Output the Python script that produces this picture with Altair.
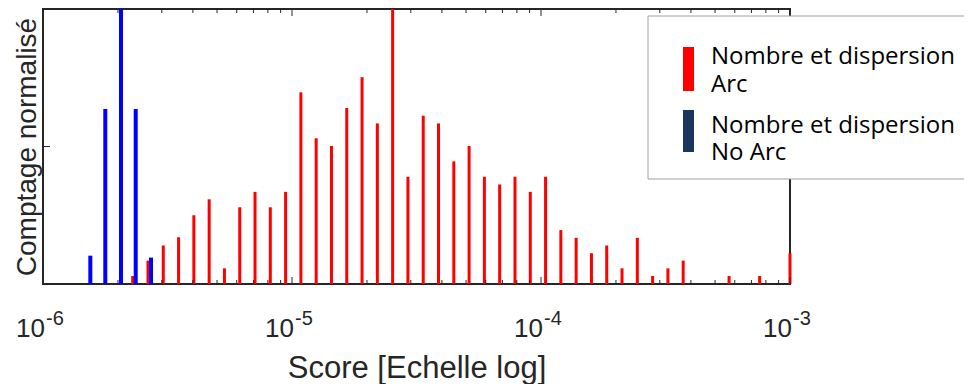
import altair as alt
import pandas as pd

# ---- data ----
red_scores = [2.292e-6, 2.640e-6, 3.041e-6, 3.503e-6, 4.035e-6, 4.649e-6, 5.354e-6, 6.168e-6,
              7.104e-6, 8.183e-6, 9.426e-6, 1.0856e-5, 1.2506e-5, 1.4405e-5, 1.6593e-5, 1.9114e-5,
              2.2017e-5, 2.5360e-5, 2.9212e-5, 3.3651e-5, 3.8764e-5, 4.4650e-5, 5.1430e-5, 5.9243e-5,
              6.8234e-5, 7.8614e-5, 9.056e-5, 1.0431e-4, 1.2015e-4, 1.3841e-4, 1.5943e-4, 1.8365e-4,
              2.1153e-4, 2.4368e-4, 2.8067e-4, 3.2335e-4, 3.7240e-4, 4.2900e-4, 4.9418e-4, 5.6924e-4,
              6.5569e-4, 7.5509e-4, 8.6986e-4, 1.0e-3]
red_values = [0.029, 0.085, 0.14, 0.17, 0.25, 0.308, 0.057, 0.279, 0.335, 0.279, 0.335, 0.697,
              0.53, 0.502, 0.64, 0.752, 0.584, 1.0, 0.39, 0.612, 0.584, 0.446, 0.502, 0.39,
              0.362, 0.39, 0.335, 0.39, 0.196, 0.168, 0.112, 0.14, 0.057, 0.168, 0.029, 0.057,
              0.085, 0.0, 0.0, 0.029, 0.0, 0.029, 0.0, 0.112]

blue_scores = [1.549e-6, 1.779e-6, 2.057e-6, 2.357e-6, 2.715e-6]
blue_values = [0.103, 0.636, 1.0, 0.636, 0.096]

decades = [1e-6, 1e-5, 1e-4, 1e-3]
decade_base = ["10", "10", "10", "10"]
decade_exp = ["-6", "-5", "-4", "-3"]
minor_mult = [2, 3, 4, 5, 6, 7, 8, 9]

legend_title = "Nombre et dispersion"
legend_names = ["Arc", "No Arc"]

W, H = 747, 275
AX = "#262626"

red_df = pd.DataFrame({"score": red_scores, "value": red_values})
blue_df = pd.DataFrame({"score": blue_scores, "value": blue_values})
major_df = pd.DataFrame({"score": decades, "base": decade_base, "exp": decade_exp})
minor_df = pd.DataFrame({"score": [m * d for d in decades[:-1] for m in minor_mult]})
one = pd.DataFrame({"k": [0]})

xscale = alt.Scale(type="log", domain=[1e-6, 1e-3], nice=False, padding=0)
yscale = alt.Scale(domain=[0, 1], nice=False, zero=True, padding=0)

xaxis = alt.Axis(title="Score [Echelle log]", labels=False, ticks=False, domain=False, grid=False,
                 titleFont="Liberation Sans", titleFontSize=31, titleFontWeight="normal",
                 titleColor=AX, titlePadding=93, titleBaseline="alphabetic")
yaxis = alt.Axis(title="Comptage normalisé", labels=False, ticks=False, domain=False, grid=False,
                 titleFont="Liberation Sans", titleFontSize=28, titleFontWeight="normal",
                 titleColor=AX, titlePadding=8, titleBaseline="alphabetic")

red = alt.Chart(red_df).mark_bar(color="#ff0000", size=3).encode(
    x=alt.X("score:Q", scale=xscale, axis=xaxis),
    y=alt.Y("value:Q", scale=yscale, axis=yaxis),
)
blue = alt.Chart(blue_df).mark_bar(color="#0000ff", size=4).encode(
    x=alt.X("score:Q", scale=xscale),
    y=alt.Y("value:Q", scale=yscale),
)

# inward ticks (MATLAB style box)
maj_bot = alt.Chart(major_df).mark_rule(color=AX, strokeWidth=1).encode(
    x=alt.X("score:Q", scale=xscale), y=alt.value(H), y2=alt.value(H - 7))
maj_top = alt.Chart(major_df).mark_rule(color=AX, strokeWidth=1).encode(
    x=alt.X("score:Q", scale=xscale), y=alt.value(0), y2=alt.value(7))
min_bot = alt.Chart(minor_df).mark_rule(color=AX, strokeWidth=1).encode(
    x=alt.X("score:Q", scale=xscale), y=alt.value(H), y2=alt.value(H - 4))
min_top = alt.Chart(minor_df).mark_rule(color=AX, strokeWidth=1).encode(
    x=alt.X("score:Q", scale=xscale), y=alt.value(0), y2=alt.value(4))
ytick_l = alt.Chart(one).mark_rule(color=AX, strokeWidth=1).encode(
    y=alt.datum(0.5, scale=yscale), x=alt.value(0), x2=alt.value(7))
ytick_r = alt.Chart(one).mark_rule(color=AX, strokeWidth=1).encode(
    y=alt.datum(0.5, scale=yscale), x=alt.value(W), x2=alt.value(W - 7))

lab_base = alt.Chart(major_df).mark_text(
    align="right", baseline="alphabetic", dx=2, font="Liberation Sans", fontSize=26, color=AX
).encode(x=alt.X("score:Q", scale=xscale), y=alt.value(328), text="base:N")
lab_exp = alt.Chart(major_df).mark_text(
    align="left", baseline="alphabetic", dx=3, font="Liberation Sans", fontSize=20, color=AX
).encode(x=alt.X("score:Q", scale=xscale), y=alt.value(316), text="exp:N")

# legend box
leg_box = alt.Chart(one).mark_rect(fill="white", stroke="#a0a0a0", strokeWidth=1).encode(
    x=alt.value(605), x2=alt.value(960), y=alt.value(7), y2=alt.value(170))
leg_red = alt.Chart(one).mark_rect(fill="#ff0000").encode(
    x=alt.value(640), x2=alt.value(651), y=alt.value(38), y2=alt.value(82))
leg_blue = alt.Chart(one).mark_rect(fill="#1b365d").encode(
    x=alt.value(640), x2=alt.value(651), y=alt.value(101), y2=alt.value(143))


def leg_text(txt, ypos):
    return alt.Chart(one).mark_text(
        text=txt, align="left", baseline="alphabetic", font="Open Sans", fontSize=24,
        color="black").encode(x=alt.value(668), y=alt.value(ypos))


leg_t1a = leg_text(legend_title, 55)
leg_t1b = leg_text(legend_names[0], 83)
leg_t2a = leg_text(legend_title, 124)
leg_t2b = leg_text(legend_names[1], 151)

chart = alt.layer(
    red, blue, maj_bot, maj_top, min_bot, min_top, ytick_l, ytick_r,
    lab_base, lab_exp, leg_box, leg_red, leg_blue, leg_t1a, leg_t1b, leg_t2a, leg_t2b
).properties(
    width=W, height=H,
    background="white",
    autosize=alt.AutoSizeParams(type="none"),
    padding={"left": 35, "top": 1, "right": 174, "bottom": 100},
).configure_view(stroke=AX, strokeWidth=2)

chart.save("out.html", embed_options={"renderer": "svg", "actions": False})
